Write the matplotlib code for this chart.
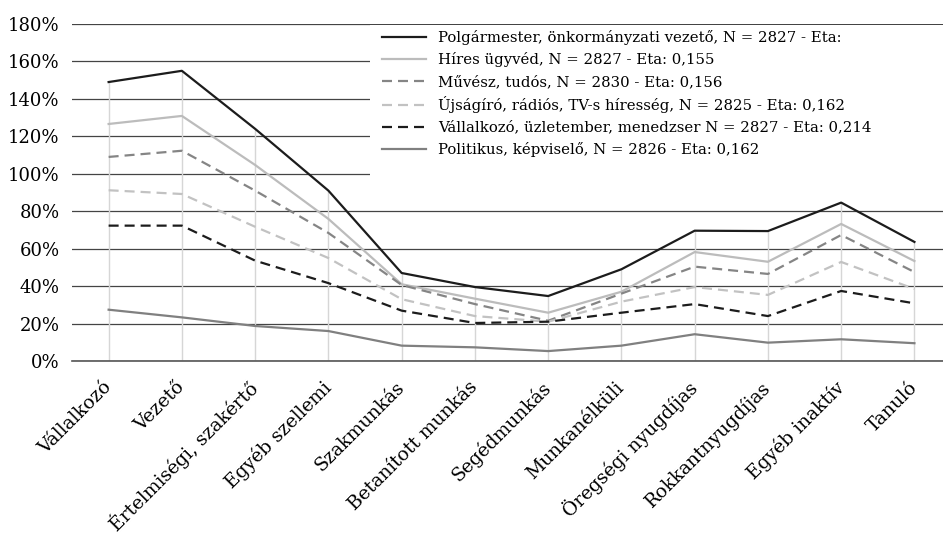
import numpy as np
from matplotlib import pyplot as plt
from matplotlib.patches import Rectangle

categories = ['Vállalkozó', 'Vezető', 'Értelmiségi, szakértő', 'Egyéb szellemi',
              'Szakmunkás', 'Betanított munkás', 'Segédmunkás', 'Munkanélküli',
              'Öregségi nyugdíjas', 'Rokkantnyugdíjas', 'Egyéb inaktív', 'Tanuló']

polgarmester = [149, 155, 124, 91, 47, 39.5, 34.7, 49, 69.6, 69.4, 84.6, 63.6]
ugyved = [126.6, 130.9, 104.7, 75.9, 41, 33.3, 25.8, 37, 58.2, 53, 73.2, 53.4]
muvesz = [109, 112.3, 91, 68.4, 40.6, 30.4, 21.5, 36, 50.4, 46.5, 67.3, 47.5]
ujsagiro = [91.2, 89.2, 71.7, 55, 33, 24, 21, 31.7, 39.5, 35.3, 52.9, 38.5]
vallalkozo = [72.3, 72.3, 53.6, 41.6, 26.9, 20.3, 21, 25.8, 30.4, 24, 37.4, 30.8]
politikus = [27.4, 23.3, 18.7, 16, 8.2, 7.3, 5.3, 8.2, 14.3, 9.8, 11.6, 9.5]

labels = ['Polgármester, önkormányzati vezető, N = 2827 - Eta:',
          'Híres ügyvéd, N = 2827 - Eta: 0,155',
          'Művész, tudós, N = 2830 - Eta: 0,156',
          'Újságíró, rádiós, TV-s híresség, N = 2825 - Eta: 0,162',
          'Vállalkozó, üzletember, menedzser N = 2827 - Eta: 0,214',
          'Politikus, képviselő, N = 2826 - Eta: 0,162']

plt.rcParams['font.family'] = ['DejaVu Serif']
plt.rcParams['font.size'] = 12

fig = plt.figure(figsize=(9.43, 5.36), dpi=100)
fig.patch.set_facecolor('w')
ax = fig.add_axes([72/943, 1-361/536, 871/943, 337/536])

x = np.arange(len(categories))

# drop lines
ax.vlines(x, 0, polgarmester, color='#d6d6d6', lw=1, zorder=1)

series = [polgarmester, ugyved, muvesz, ujsagiro, vallalkozo, politikus]
colors = ['#1c1c1c', '#bcbcbc', '#858585', '#c2c2c2', '#1c1c1c', '#808080']
dashed = [False, False, True, True, True, False]
for s, c, d, lab in zip(series, colors, dashed, labels):
    line, = ax.plot(x, s, color=c, lw=1.6, label=lab, zorder=3)
    if d:
        line.set_dashes((4.5, 2.7))

ax.set_ylim(0, 180)
ax.set_xlim(-0.5, 11.39)
ax.set_yticks(np.arange(0, 181, 20))
ax.set_yticklabels(['%d%%' % v for v in range(0, 181, 20)])
ax.yaxis.grid(True, color='#444444', lw=0.9, zorder=0)
ax.axhline(0, color='#555555', lw=1.2, clip_on=False, zorder=1.5)
ax.set_axisbelow(True)
for sp in ax.spines.values():
    sp.set_visible(False)
ax.tick_params(axis='both', length=0)
ax.tick_params(axis='y', pad=9, labelsize=13)
ax.set_xticks(x)
ax.set_xticklabels(categories, rotation=45, ha='right', va='center',
                   rotation_mode='anchor')
ax.tick_params(axis='x', pad=17, labelsize=13.5)

# white box behind the legend
ax.add_patch(Rectangle((370/943, 1-182/536), 573/943, 157/536,
                       transform=fig.transFigure, facecolor='w',
                       edgecolor='none', zorder=2.5, clip_on=False))

leg = ax.legend(loc='upper left', bbox_to_anchor=(382/943, 1-30/536),
                bbox_transform=fig.transFigure, frameon=False,
                borderaxespad=0, borderpad=0, handlelength=2.95,
                handletextpad=0.8, labelspacing=0.5, fontsize=10.7)
leg.set_zorder(5)

plt.savefig('out.png', dpi=100)
